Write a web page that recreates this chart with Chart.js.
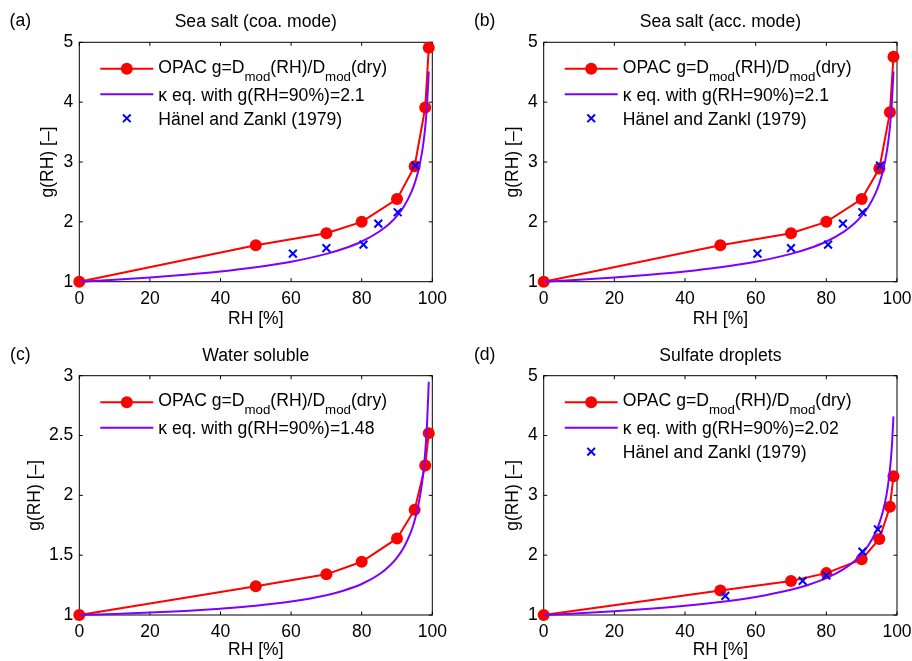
<!DOCTYPE html>
<html>
<head>
<meta charset="utf-8">
<script src="https://cdn.jsdelivr.net/npm/chart.js@4.4.1/dist/chart.umd.min.js"></script>
<style>
  body { margin: 0; background: #fff; overflow: hidden; }
  canvas { position: absolute; }
</style>
</head>
<body>
<canvas id="chartA" width="456" height="330" style="left:0;top:0"></canvas>
<canvas id="chartB" width="456" height="330" style="left:456px;top:0"></canvas>
<canvas id="chartC" width="456" height="331" style="left:0;top:330px"></canvas>
<canvas id="chartD" width="456" height="331" style="left:456px;top:330px"></canvas>
<script>
// OPAC growth factors
const rhOpac = [0, 50, 70, 80, 90, 95, 98, 99];
const gOpacCoarse = [1, 1.61, 1.81, 2.0, 2.38, 2.93, 3.91, 4.91];
const gOpacAcc = [1, 1.61, 1.81, 2.0, 2.38, 2.89, 3.83, 4.76];
const gOpacWaso = [1, 1.24, 1.34, 1.445, 1.64, 1.88, 2.25, 2.52];
const gOpacSulf = [1, 1.41, 1.57, 1.70, 1.93, 2.27, 2.81, 3.32];

// kappa curves
const rhKappa = [0, 5, 10, 20, 30, 40, 50, 60, 70, 75, 80, 85, 88, 90, 92, 94, 95, 96, 97, 97.5, 98, 98.5, 99];
const gKappaSeaSalt = [1, 1.016, 1.033, 1.071, 1.117, 1.172, 1.243, 1.335, 1.465, 1.554, 1.672, 1.838, 1.977, 2.1, 2.261, 2.487, 2.642, 2.845, 3.131, 3.326, 3.582, 3.943, 4.513];
const gKappaWaso = [1, 1.004, 1.009, 1.020, 1.034, 1.053, 1.077, 1.112, 1.165, 1.205, 1.259, 1.341, 1.414, 1.48, 1.569, 1.699, 1.790, 1.911, 2.084, 2.204, 2.363, 2.589, 2.950];
const gKappaSulf = [1, 1.014, 1.029, 1.063, 1.104, 1.154, 1.217, 1.302, 1.422, 1.506, 1.616, 1.772, 1.904, 2.02, 2.173, 2.387, 2.535, 2.729, 3.000, 3.188, 3.432, 3.776, 4.321];

// Hänel and Zankl (1979)
const rhHanelSeaSalt = [60.5, 70, 80.5, 84.7, 90.2, 95.2];
const gHanelSeaSalt = [1.47, 1.56, 1.62, 1.97, 2.16, 2.94];
const rhHanelSulf = [51.4, 73.3, 80, 90.2, 94.6];
const gHanelSulf = [1.32, 1.57, 1.66, 2.06, 2.43];

const xTicks = [0, 20, 40, 60, 80, 100];
const yTicksTo5 = [1, 2, 3, 4, 5];
const yTicksTo3 = [1, 1.5, 2, 2.5, 3];

const FONT = '"Liberation Sans", Arial, Helvetica, sans-serif';
const FS = 17.5;
const RED = '#ff0000';
const PURPLE = '#7f00ff';
const BLUE = '#0000ff';

Chart.defaults.font.family = FONT;
Chart.defaults.color = '#000';

function pts(xs, ys) {
  return xs.map((x, i) => ({ x: x, y: ys[i] }));
}

function opacSet(ys) {
  return {
    data: pts(rhOpac, ys),
    borderColor: RED, backgroundColor: RED,
    borderWidth: 2, pointRadius: 6, pointBorderWidth: 0,
    pointStyle: 'circle', order: 3, clip: false,
    legendParts: [['OPAC g=D'], ['mod', 1], ['(RH)/D'], ['mod', 1], ['(dry)']]
  };
}

function kappaSet(ys, g90) {
  return {
    data: pts(rhKappa, ys),
    borderColor: PURPLE, borderWidth: 2, pointRadius: 0,
    cubicInterpolationMode: 'monotone', order: 2, clip: false,
    legendParts: [['\u03ba eq. with g(RH=90%)=' + g90]]
  };
}

function hanelSet(xs, ys) {
  return {
    data: pts(xs, ys),
    showLine: false, borderColor: BLUE, backgroundColor: BLUE,
    pointStyle: 'crossRot', pointRadius: 5.5, pointBorderWidth: 2,
    order: 1, clip: false,
    legendParts: [['H\u00e4nel and Zankl (1979)']]
  };
}

// box + inward ticks
const framePlugin = {
  id: 'frame',
  beforeDatasetsDraw(chart) {
    const { ctx, chartArea: a, scales } = chart;
    const len = 3.5;
    ctx.save();
    ctx.strokeStyle = '#000';
    ctx.lineWidth = 1;
    ctx.strokeRect(a.left, a.top, a.right - a.left, a.bottom - a.top);
    ctx.beginPath();
    scales.x.ticks.forEach(t => {
      const px = scales.x.getPixelForValue(t.value);
      ctx.moveTo(px, a.bottom); ctx.lineTo(px, a.bottom - len);
      ctx.moveTo(px, a.top); ctx.lineTo(px, a.top + len);
    });
    scales.y.ticks.forEach(t => {
      const py = scales.y.getPixelForValue(t.value);
      ctx.moveTo(a.left, py); ctx.lineTo(a.left + len, py);
      ctx.moveTo(a.right, py); ctx.lineTo(a.right - len, py);
    });
    ctx.stroke();
    ctx.restore();
  }
};

// title, panel tag and legend with subscripts
const rowLine = [26.5, 52, 76];
const rowText = [4.2, 6.2, 6.5];

const decoPlugin = {
  id: 'deco',
  afterDraw(chart, args, opts) {
    const { ctx, chartArea: a } = chart;
    ctx.save();
    ctx.fillStyle = '#000';
    ctx.font = '17.6px ' + FONT;
    ctx.textAlign = 'center';
    ctx.textBaseline = 'middle';
    ctx.fillText(opts.title, (a.left + a.right) / 2, a.top - 20);
    ctx.fillText(opts.tag, a.left - 59, a.top - 21);

    ctx.textAlign = 'left';
    ctx.textBaseline = 'alphabetic';
    chart.data.datasets.forEach((ds, i) => {
      const y = a.top + rowLine[i];
      const x0 = a.left + 21, x1 = a.left + 74, xm = (x0 + x1) / 2;
      if (ds.showLine !== false) {
        ctx.strokeStyle = ds.borderColor;
        ctx.lineWidth = ds.borderWidth;
        ctx.beginPath(); ctx.moveTo(x0, y); ctx.lineTo(x1, y); ctx.stroke();
      }
      if (ds.pointStyle === 'circle' && ds.pointRadius > 0) {
        ctx.fillStyle = ds.backgroundColor;
        ctx.beginPath(); ctx.arc(xm, y, ds.pointRadius, 0, Math.PI * 2); ctx.fill();
      } else if (ds.pointStyle === 'crossRot') {
        const r = ds.pointRadius * 0.7;
        ctx.strokeStyle = ds.borderColor;
        ctx.lineWidth = ds.pointBorderWidth;
        ctx.beginPath();
        ctx.moveTo(xm - r, y - r); ctx.lineTo(xm + r, y + r);
        ctx.moveTo(xm - r, y + r); ctx.lineTo(xm + r, y - r);
        ctx.stroke();
      }
      let tx = a.left + 79;
      const base = y + rowText[i];
      ctx.fillStyle = '#000';
      ds.legendParts.forEach(p => {
        ctx.font = (p[1] ? '13.3px ' : '17.6px ') + FONT;
        ctx.fillText(p[0], tx, p[1] ? base + 8 : base);
        tx += ctx.measureText(p[0]).width;
      });
    });
    ctx.restore();
  }
};

function makePanel(id, canvasBox, plotBox, datasets, yTicks, yMax, opts) {
  const c = document.getElementById(id);
  const padTop = plotBox.top - canvasBox.top;
  const padRight = canvasBox.left + canvasBox.w - plotBox.right;
  const yWidth = plotBox.left - canvasBox.left;
  const xHeight = canvasBox.top + canvasBox.h - plotBox.bottom;
  const half = FS * 1.2 / 2;
  const yTitlePad = Math.max(0, yWidth - opts.yTitleGap - half);
  const xTitlePad = Math.max(0, xHeight - 38.5 - half);

  new Chart(c, {
    type: 'line',
    data: { datasets: datasets },
    options: {
      responsive: false,
      devicePixelRatio: 1,
      animation: false,
      events: [],
      layout: { padding: { left: 0, top: padTop, right: padRight, bottom: 0 } },
      plugins: {
        legend: { display: false },
        tooltip: { enabled: false },
        deco: { title: opts.title, tag: opts.tag }
      },
      scales: {
        x: {
          type: 'linear', min: 0, max: 100,
          grid: { display: false, drawTicks: false },
          border: { display: false },
          afterBuildTicks: s => { s.ticks = xTicks.map(v => ({ value: v })); },
          afterFit: s => { s.height = xHeight; s.paddingLeft = 0; s.paddingRight = 0; },
          ticks: { padding: 6.5, maxRotation: 0, font: { size: FS }, callback: v => String(v) },
          title: { display: true, text: 'RH [%]', font: { size: FS }, padding: { top: 0, bottom: xTitlePad } }
        },
        y: {
          type: 'linear', min: 1, max: yMax,
          grid: { display: false, drawTicks: false },
          border: { display: false },
          afterBuildTicks: s => { s.ticks = yTicks.map(v => ({ value: v })); },
          afterFit: s => { s.width = yWidth; s.paddingTop = 0; s.paddingBottom = 0; },
          ticks: { padding: 6, font: { size: FS }, callback: v => String(v) },
          title: { display: true, text: 'g(RH) [\u2013]', font: { size: FS }, padding: { top: yTitlePad, bottom: 0 } }
        }
      }
    },
    plugins: [framePlugin, decoPlugin]
  });
}

makePanel('chartA', { left: 0, top: 0, w: 456, h: 330 },
  { left: 79.3, right: 432.3, top: 42.3, bottom: 281.7 },
  [opacSet(gOpacCoarse), kappaSet(gKappaSeaSalt, '2.1'), hanelSet(rhHanelSeaSalt, gHanelSeaSalt)],
  yTicksTo5, 5, { title: 'Sea salt (coa. mode)', tag: '(a)', yTitleGap: 31 });

makePanel('chartB', { left: 456, top: 0, w: 456, h: 330 },
  { left: 543.7, right: 897, top: 42.3, bottom: 281.7 },
  [opacSet(gOpacAcc), kappaSet(gKappaSeaSalt, '2.1'), hanelSet(rhHanelSeaSalt, gHanelSeaSalt)],
  yTicksTo5, 5, { title: 'Sea salt (acc. mode)', tag: '(b)', yTitleGap: 31 });

makePanel('chartC', { left: 0, top: 330, w: 456, h: 331 },
  { left: 79.3, right: 432.3, top: 375.7, bottom: 615 },
  [opacSet(gOpacWaso), kappaSet(gKappaWaso, '1.48')],
  yTicksTo3, 3, { title: 'Water soluble', tag: '(c)', yTitleGap: 44 });

makePanel('chartD', { left: 456, top: 330, w: 456, h: 331 },
  { left: 543.7, right: 897, top: 375.7, bottom: 615 },
  [opacSet(gOpacSulf), kappaSet(gKappaSulf, '2.02'), hanelSet(rhHanelSulf, gHanelSulf)],
  yTicksTo5, 5, { title: 'Sulfate droplets', tag: '(d)', yTitleGap: 31 });
</script>
</body>
</html>
